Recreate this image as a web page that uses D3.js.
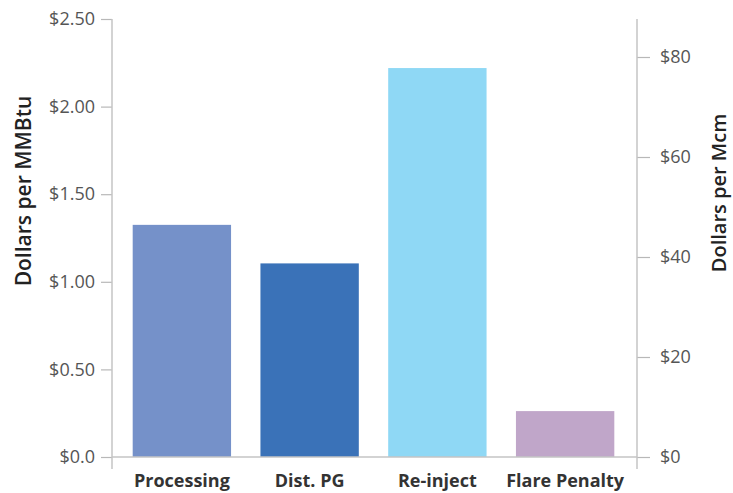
<!DOCTYPE html>
<html>
<head>
<meta charset="utf-8">
<script src="https://cdn.jsdelivr.net/npm/d3@7"></script>
<style>
body { margin: 0; background: #fff; }
svg text { font-family: "Open Sans", sans-serif; }
</style>
</head>
<body>
<svg id="chart"></svg>
<script>
// values
var categories = ["Processing", "Dist. PG", "Re-inject", "Flare Penalty"];
var costs = [1.325, 1.105, 2.22, 0.262];   // dollars per MMBtu
var barColors = ["#7591c9", "#3a72b8", "#8fd8f5", "#c0a6c9"];

var leftTicks = [0, 0.5, 1.0, 1.5, 2.0, 2.5];
var leftTickLabels = ["$0.0", "$0.50", "$1.00", "$1.50", "$2.00", "$2.50"];
var rightTicks = [0, 20, 40, 60, 80];
var rightTickLabels = ["$0", "$20", "$40", "$60", "$80"];
var rightMax = 87.6;

function render()
{
	var width = 733, height = 493;
	var left = 112, right = 637, top = 19, bottom = 457;

	var svg = d3.select("#chart")
		.attr("width", width)
		.attr("height", height);

	var xScale = d3.scaleBand().domain(categories).range([118, 629])
		.paddingInner(0.23).paddingOuter(0.115);
	var yScale = d3.scaleLinear().domain([0, 2.5]).range([bottom, top]);
	var y2Scale = d3.scaleLinear().domain([0, rightMax]).range([bottom, top]);

	// bars
	svg.append("g")
		.selectAll("rect")
		.data(categories)
		.enter()
		.append("rect")
		.attr("x", function(d){ return xScale(d); })
		.attr("width", xScale.bandwidth())
		.attr("y", function(d, i){ return yScale(costs[i]); })
		.attr("height", function(d, i){ return bottom - yScale(costs[i]); })
		.attr("fill", function(d, i){ return barColors[i]; });

	// baseline
	svg.append("line")
		.attr("x1", left).attr("x2", right)
		.attr("y1", bottom).attr("y2", bottom)
		.attr("stroke", "#c4c4c4").attr("stroke-width", 1.5);

	var yAxis = d3.axisLeft(yScale)
		.tickValues(leftTicks)
		.tickFormat(function(d, i){ return leftTickLabels[i]; })
		.tickSize(11).tickPadding(6);

	var gl = svg.append("g")
		.attr("class", "y axis")
		.attr("transform", "translate(" + left + ",0)")
		.call(yAxis);

	var y2Axis = d3.axisRight(y2Scale)
		.tickValues(rightTicks)
		.tickFormat(function(d, i){ return rightTickLabels[i]; })
		.tickSize(13).tickPadding(10);

	var gr = svg.append("g")
		.attr("class", "y2 axis")
		.attr("transform", "translate(" + right + ",0)")
		.call(y2Axis);

	[gl, gr].forEach(function(g)
	{
		g.select(".domain").remove();
		g.append("line")
			.attr("x1", 0).attr("x2", 0)
			.attr("y1", top).attr("y2", bottom + 12)
			.attr("stroke", "#c4c4c4").attr("stroke-width", 1.5);
		g.selectAll(".tick line").attr("stroke", "#b8b8b8").attr("stroke-width", 1.2);
		g.selectAll(".tick text")
			.attr("fill", "#555")
			.style("font-size", "18px");
	});

	// category labels
	var xAxis = d3.axisBottom(xScale).tickSize(0).tickPadding(17);
	var gx = svg.append("g")
		.attr("class", "x axis")
		.attr("transform", "translate(0," + bottom + ")")
		.call(xAxis);
	gx.select(".domain").remove();
	gx.selectAll(".tick text")
		.attr("fill", "#333")
		.style("font-size", "18px")
		.style("font-weight", "bold");

	// axis titles
	svg.append("text")
		.attr("transform", "translate(31,191) rotate(-90)")
		.style("text-anchor", "middle")
		.style("font-size", "21px")
		.style("font-weight", "600")
		.attr("fill", "#222")
		.text("Dollars per MMBtu");

	svg.append("text")
		.attr("transform", "translate(726,193) rotate(-90)")
		.style("text-anchor", "middle")
		.style("font-size", "20px")
		.style("font-weight", "600")
		.attr("fill", "#222")
		.text("Dollars per Mcm");
}

render();
</script>
</body>
</html>
